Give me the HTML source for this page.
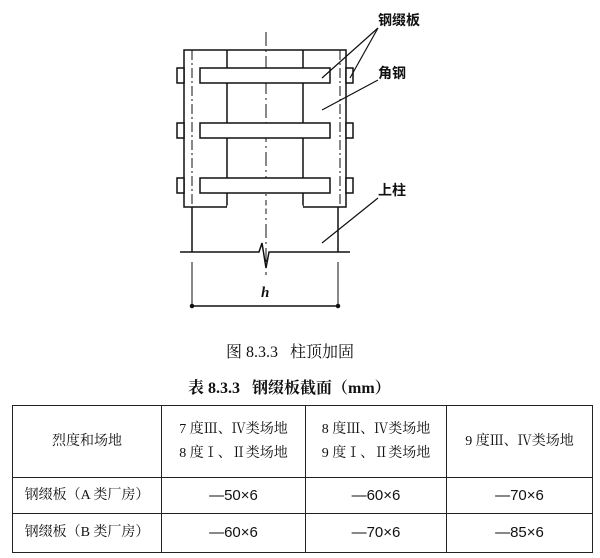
<!DOCTYPE html>
<html><head><meta charset="utf-8"><style>
body{margin:0;width:600px;height:558px;background:#fff;overflow:hidden;position:relative;font-family:"Liberation Serif","Noto Serif CJK SC","Noto Sans CJK SC",serif;color:#111}
.t{position:absolute;white-space:nowrap}
table{position:absolute;left:12px;top:405px;width:581px;border-collapse:collapse;font-size:14px}
td{border:1.5px solid #222;text-align:center;padding:0;line-height:24px}
.v{font-family:"Liberation Sans","Noto Sans CJK SC",sans-serif;font-size:15px}
</style></head><body>
<svg width="600" height="340" style="position:absolute;left:0;top:0" stroke="#111" fill="none" stroke-width="1.5">
<line x1="266" y1="32" x2="266" y2="275" stroke-width="1" stroke-dasharray="14,4,2,4"/>
<rect x="184" y="50" width="162" height="157" fill="none"/>
<line x1="227" y1="50" x2="227" y2="207"/>
<line x1="303" y1="50" x2="303" y2="207"/>
<line x1="227" y1="207" x2="303" y2="207" stroke="#fff" stroke-width="3"/>
<line x1="192" y1="50" x2="192" y2="207" stroke-width="1" stroke-dasharray="10,3,2,3"/>
<line x1="340" y1="50" x2="340" y2="207" stroke-width="1" stroke-dasharray="10,3,2,3"/>
<g fill="#fff">
<rect x="200" y="68" width="130" height="15"/>
<rect x="200" y="123" width="130" height="15"/>
<rect x="200" y="178" width="130" height="15"/>
<rect x="177" y="68" width="7" height="15"/><rect x="346" y="68" width="7" height="15"/>
<rect x="177" y="123" width="7" height="15"/><rect x="346" y="123" width="7" height="15"/>
<rect x="177" y="178" width="7" height="15"/><rect x="346" y="178" width="7" height="15"/>
</g>
<line x1="192" y1="207" x2="192" y2="252"/>
<line x1="338" y1="207" x2="338" y2="252"/>
<polyline points="180,252 259,252 262,243 266,268 269,252 350,252"/>
<line x1="192" y1="262" x2="192" y2="308" stroke-width="1"/>
<line x1="338" y1="262" x2="338" y2="308" stroke-width="1"/>
<line x1="190" y1="306" x2="340" y2="306"/>
<circle cx="192" cy="306" r="1.5" fill="#111"/><circle cx="338" cy="306" r="1.5" fill="#111"/>
<line x1="378" y1="28" x2="322" y2="78" stroke-width="1.2"/>
<line x1="378" y1="28" x2="350" y2="78" stroke-width="1.2"/>
<line x1="378" y1="80" x2="322" y2="110" stroke-width="1.2"/>
<line x1="378" y1="198" x2="322" y2="243" stroke-width="1.2"/>
</svg>
<div class="t" style="left:378px;top:10px;font-size:14px;font-weight:bold;font-family:'Noto Sans CJK SC',sans-serif">钢缀板</div>
<div class="t" style="left:378px;top:63px;font-size:14px;font-weight:bold;font-family:'Noto Sans CJK SC',sans-serif">角钢</div>
<div class="t" style="left:378px;top:180px;font-size:14px;font-weight:bold;font-family:'Noto Sans CJK SC',sans-serif">上柱</div>
<div class="t" style="left:261px;top:285px;font-size:15px;font-style:italic;font-weight:bold">h</div>
<div class="t" style="left:226px;top:339px;font-size:16px">图 8.3.3&nbsp;&nbsp; 柱顶加固</div>
<div class="t" style="left:188px;top:375px;font-size:16px;font-weight:bold">表 8.3.3&nbsp;&nbsp; 钢缀板截面（mm）</div>
<table>
<tr style="height:72px"><td style="width:148px">烈度和场地</td><td style="width:143px">7 度Ⅲ、Ⅳ类场地<br>8 度Ⅰ、Ⅱ类场地</td><td style="width:140px">8 度Ⅲ、Ⅳ类场地<br>9 度Ⅰ、Ⅱ类场地</td><td>9 度Ⅲ、Ⅳ类场地</td></tr>
<tr style="height:36px"><td>钢缀板（A 类厂房）</td><td class="v">—50×6</td><td class="v">—60×6</td><td class="v">—70×6</td></tr>
<tr style="height:39px"><td>钢缀板（B 类厂房）</td><td class="v">—60×6</td><td class="v">—70×6</td><td class="v">—85×6</td></tr>
</table>
</body></html>
